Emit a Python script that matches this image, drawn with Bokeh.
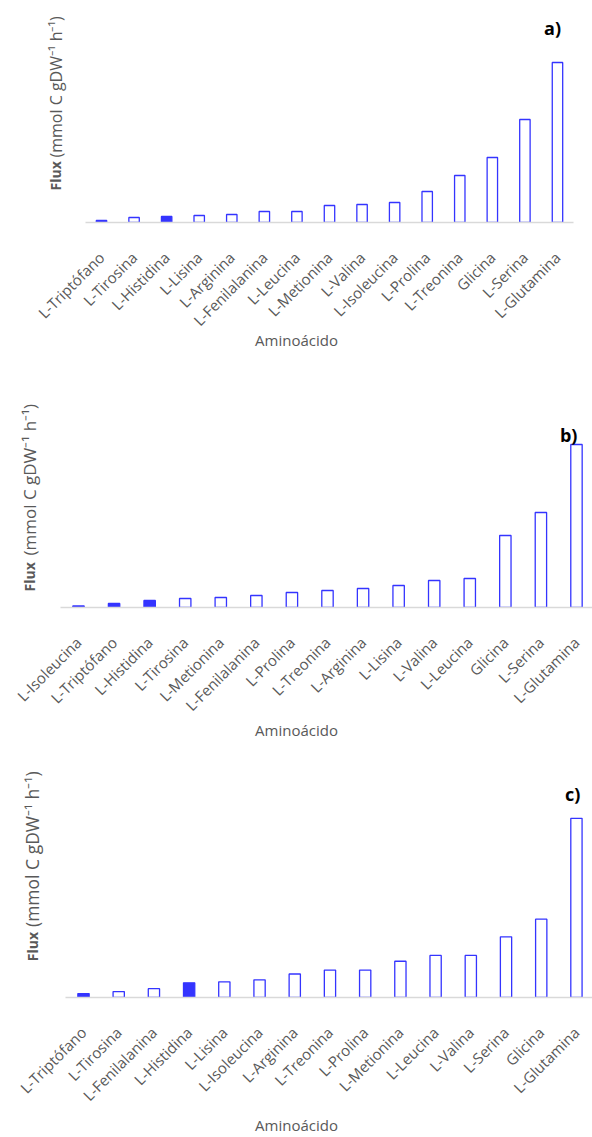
import math
from bokeh.plotting import figure
from bokeh.models import Range1d, Label, ColumnDataSource, FixedTicker
from bokeh.layouts import column
from bokeh.embed import file_html
from bokeh.resources import INLINE

# ---- data (relative flux) ----
a_cats = ["L-Triptófano", "L-Tirosina", "L-Histidina", "L-Lisina", "L-Arginina",
          "L-Fenilalanina", "L-Leucina", "L-Metionina", "L-Valina", "L-Isoleucina",
          "L-Prolina", "L-Treonina", "Glicina", "L-Serina", "L-Glutamina"]
a_vals = [2, 5, 6, 7, 8, 11, 11, 17, 18, 20, 31, 47, 65, 103, 160]

b_cats = ["L-Isoleucina", "L-Triptófano", "L-Histidina", "L-Tirosina", "L-Metionina",
          "L-Fenilalanina", "L-Prolina", "L-Treonina", "L-Arginina", "L-Lisina",
          "L-Valina", "L-Leucina", "Glicina", "L-Serina", "L-Glutamina"]
b_vals = [1.5, 4, 7, 9, 10, 12, 15, 17, 19, 22, 27, 29, 72, 95, 163]

c_cats = ["L-Triptófano", "L-Tirosina", "L-Fenilalanina", "L-Histidina", "L-Lisina",
          "L-Isoleucina", "L-Arginina", "L-Treonina", "L-Prolina", "L-Metionina",
          "L-Leucina", "L-Valina", "L-Serina", "Glicina", "L-Glutamina"]
c_vals = [4, 6, 9, 15, 16, 18, 24, 28, 28, 37, 43, 43, 62, 80, 183]

filled_cats = ["L-Triptófano", "L-Histidina"]

x_title = "Aminoácido"
y_title_bold = "Flux"
y_title_rest = "(mmol C gDW⁻¹ h⁻¹)"

BLUE = "#3434ff"
GRAY = "#595959"
FONT = "Open Sans"
FIG_W = 592


def make_panel(cats, vals, tag, height, bottom, first_px, step_px,
               tag_pos, ylab_pos, ylab_gap, ylab_size, title_standoff):
    n = len(cats)
    xs = list(range(n))
    start = -first_px / step_px
    end = start + FIG_W / step_px
    frame_h = height - bottom
    p = figure(x_range=Range1d(start, end), y_range=Range1d(0, frame_h),
               width=FIG_W, height=height, output_backend="svg",
               toolbar_location=None, min_border_left=0, min_border_right=0,
               min_border_top=0, min_border_bottom=bottom)
    fills = [BLUE if c in filled_cats else "white" for c in cats]
    src = ColumnDataSource(dict(x=xs, top=vals, fill=fills, name=cats))
    p.vbar(x="x", top="top", width=0.32, source=src, fill_color="fill",
           line_color=BLUE, line_width=1.3)
    p.outline_line_color = None
    p.xgrid.visible = False
    p.ygrid.visible = False
    p.yaxis.visible = False
    ax = p.xaxis[0]
    ax.ticker = FixedTicker(ticks=xs)
    ax.major_label_overrides = {i: c for i, c in zip(xs, cats)}
    ax.bounds = (-0.5, n - 0.5)
    ax.axis_line_color = "#d9d9d9"
    ax.axis_line_width = 1.5
    ax.major_tick_line_color = None
    ax.minor_tick_line_color = None
    ax.major_label_orientation = math.pi / 4
    ax.major_label_text_color = GRAY
    ax.major_label_text_font = FONT
    ax.major_label_text_font_size = "15px"
    ax.major_label_standoff = 26
    ax.axis_label = x_title
    ax.axis_label_text_font = FONT
    ax.axis_label_text_font_size = "15px"
    ax.axis_label_text_font_style = "normal"
    ax.axis_label_text_color = GRAY
    ax.axis_label_standoff = title_standoff

    p.add_layout(Label(x=tag_pos[0], y=tag_pos[1], text=tag, text_font=FONT,
                       text_font_size="18px", text_font_style="bold",
                       text_color="black", text_align="center",
                       text_baseline="middle"))
    p.add_layout(Label(x=ylab_pos[0], y=ylab_pos[1], text=y_title_bold,
                       angle=math.pi / 2, text_font=FONT,
                       text_font_size="14px", text_font_style="bold",
                       text_color=GRAY, text_align="left",
                       text_baseline="middle"))
    p.add_layout(Label(x=ylab_pos[0], y=ylab_pos[1] + ylab_gap, text=y_title_rest,
                       angle=math.pi / 2, text_font=FONT,
                       text_font_size=ylab_size, text_color=GRAY,
                       text_align="left", text_baseline="middle"))
    return p


pa = make_panel(a_cats, a_vals, "a)", 375, 153, 101, 32.57,
                (13.85, 195), (-1.41, 32), 33, "16px", -10)
pb = make_panel(b_cats, b_vals, "b)", 385, 153, 78, 35.57,
                (13.78, 173), (-1.38, 16), 36, "17px", -5)
pc = make_panel(c_cats, c_vals, "c)", 377, 135, 83, 35.21,
                (13.89, 208), (-1.45, 37), 35, "17.5px", 0)

layout = column(pa, pb, pc)
open("out.html", "w").write(file_html(layout, INLINE))
